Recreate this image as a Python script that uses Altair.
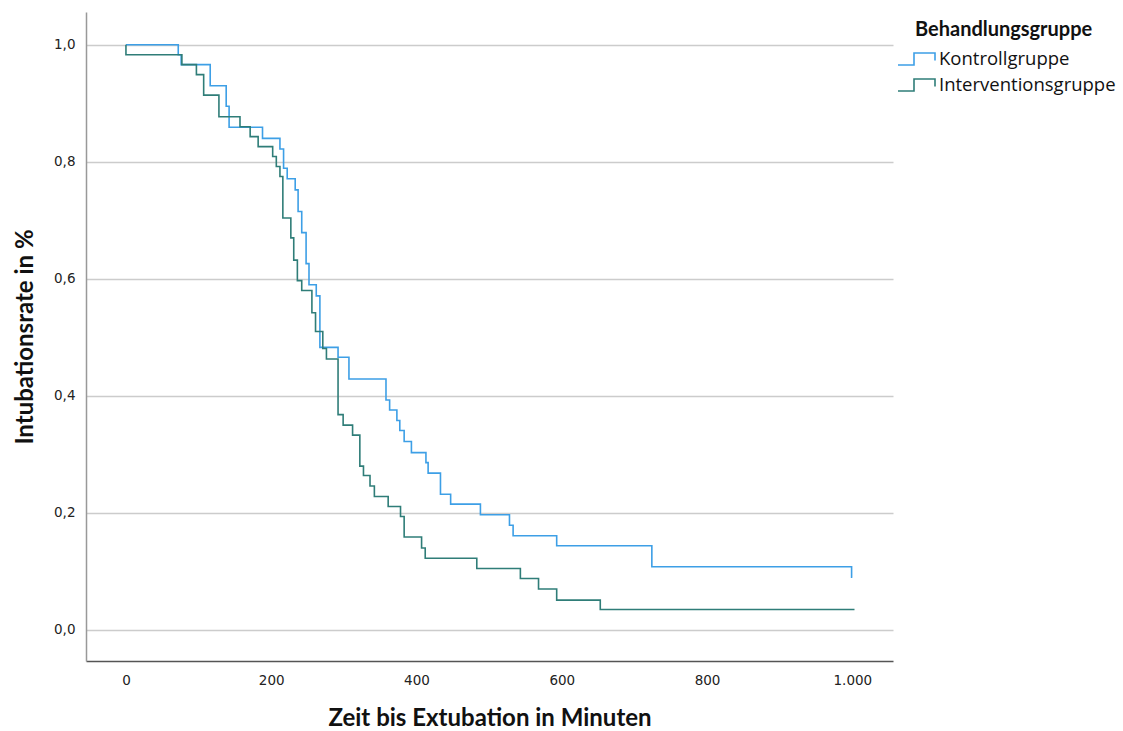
import altair as alt
import pandas as pd

groups = ["Kontrollgruppe", "Interventionsgruppe"]
colors = ["#3d9fe6", "#2f7d78"]

kontroll_time = [0, 0, 72, 76, 116, 138, 142, 188, 212, 217, 222, 233, 237, 242, 248,
                 252, 262, 267, 292, 307, 358, 363, 373, 377, 383, 393, 413, 416,
                 433, 447, 488, 528, 533, 593, 724, 999, 1000]
kontroll_surv = [1.0, 1.0, 0.983, 0.966, 0.930, 0.895, 0.859, 0.840, 0.822, 0.789,
                 0.771, 0.752, 0.715, 0.679, 0.626, 0.590, 0.571, 0.483, 0.466,
                 0.429, 0.393, 0.376, 0.358, 0.341, 0.322, 0.303, 0.286, 0.268,
                 0.232, 0.215, 0.197, 0.179, 0.161, 0.144, 0.108, 0.090, 0.090]

interv_time = [0, 0, 77, 97, 107, 128, 157, 171, 182, 202, 207, 212, 216, 227, 231,
               236, 242, 256, 261, 271, 276, 292, 299, 312, 322, 327, 336, 342,
               361, 378, 383, 407, 412, 483, 543, 568, 593, 653, 1003]
interv_surv = [1.0, 0.983, 0.966, 0.949, 0.914, 0.877, 0.860, 0.843, 0.826, 0.809,
               0.792, 0.775, 0.704, 0.670, 0.632, 0.597, 0.580, 0.542, 0.510,
               0.481, 0.463, 0.368, 0.350, 0.333, 0.280, 0.264, 0.246, 0.228,
               0.211, 0.194, 0.159, 0.140, 0.1225, 0.105, 0.088, 0.070, 0.051,
               0.035, 0.035]

x_ticks = [0, 200, 400, 600, 800, 1000]
y_ticks = [0.0, 0.2, 0.4, 0.6, 0.8, 1.0]

rows = []
for i, (t, s) in enumerate(zip(kontroll_time, kontroll_surv)):
    rows.append({"Zeit": t, "Rate": s, "Gruppe": groups[0], "idx": i})
for i, (t, s) in enumerate(zip(interv_time, interv_surv)):
    rows.append({"Zeit": t, "Rate": s, "Gruppe": groups[1], "idx": i})
df = pd.DataFrame(rows)

step_path = "M-2.8,0.6 L-1.2,0.6 L-1.2,-0.6 L0.9,-0.6 L0.9,0.15"

chart = alt.Chart(df).mark_line(interpolate="step-after", strokeWidth=1.6).encode(
    x=alt.X("Zeit:Q",
            scale=alt.Scale(domain=[-55, 1056], nice=False, zero=False),
            axis=alt.Axis(values=x_ticks, title="Zeit bis Extubation in Minuten",
                          grid=False, ticks=False, labelPadding=12,
                          labelExpr="replace(format(datum.value, ','), ',', '.')",
                          titlePadding=20, domainColor="#555555", domainWidth=1.5)),
    y=alt.Y("Rate:Q",
            scale=alt.Scale(domain=[-0.053, 1.056], nice=False, zero=False),
            axis=alt.Axis(values=y_ticks, title="Intubationsrate in %",
                          grid=True, ticks=False, labelPadding=11,
                          labelExpr="replace(format(datum.value, '.1f'), '.', ',')",
                          titlePadding=16, domainColor="#999999", domainWidth=1.5)),
    color=alt.Color("Gruppe:N",
                    scale=alt.Scale(domain=groups, range=colors),
                    legend=alt.Legend(title="Behandlungsgruppe", orient="none",
                                      legendX=829, legendY=8,
                                      symbolType=step_path, symbolSize=400,
                                      symbolStrokeWidth=1.6, symbolFillColor="transparent",
                                      labelOffset=2, rowPadding=5, padding=0,
                                      labelLimit=400, titleLimit=400,
                                      titlePadding=8, titleAnchor="start")),
    order=alt.Order("idx:Q"),
).properties(
    width=807, height=649,
    autosize=alt.AutoSizeParams(type="none"),
    padding={"left": 86, "top": 12, "right": 230, "bottom": 70},
).configure_view(stroke=None).configure_axis(
    labelFont="DejaVu Sans", labelFontSize=13.5, labelColor="#222222",
    titleFont="Lato", titleFontSize=24, titleFontWeight="bold", titleColor="#111111",
    gridColor="#cccccc", gridWidth=1.5,
).configure_legend(
    labelFont="Open Sans", labelFontSize=18.5, labelColor="#111111",
    titleFont="Lato", titleFontSize=20, titleFontWeight="bold", titleColor="#111111",
)

chart.save("out.html", embed_options={"renderer": "svg", "actions": False})
